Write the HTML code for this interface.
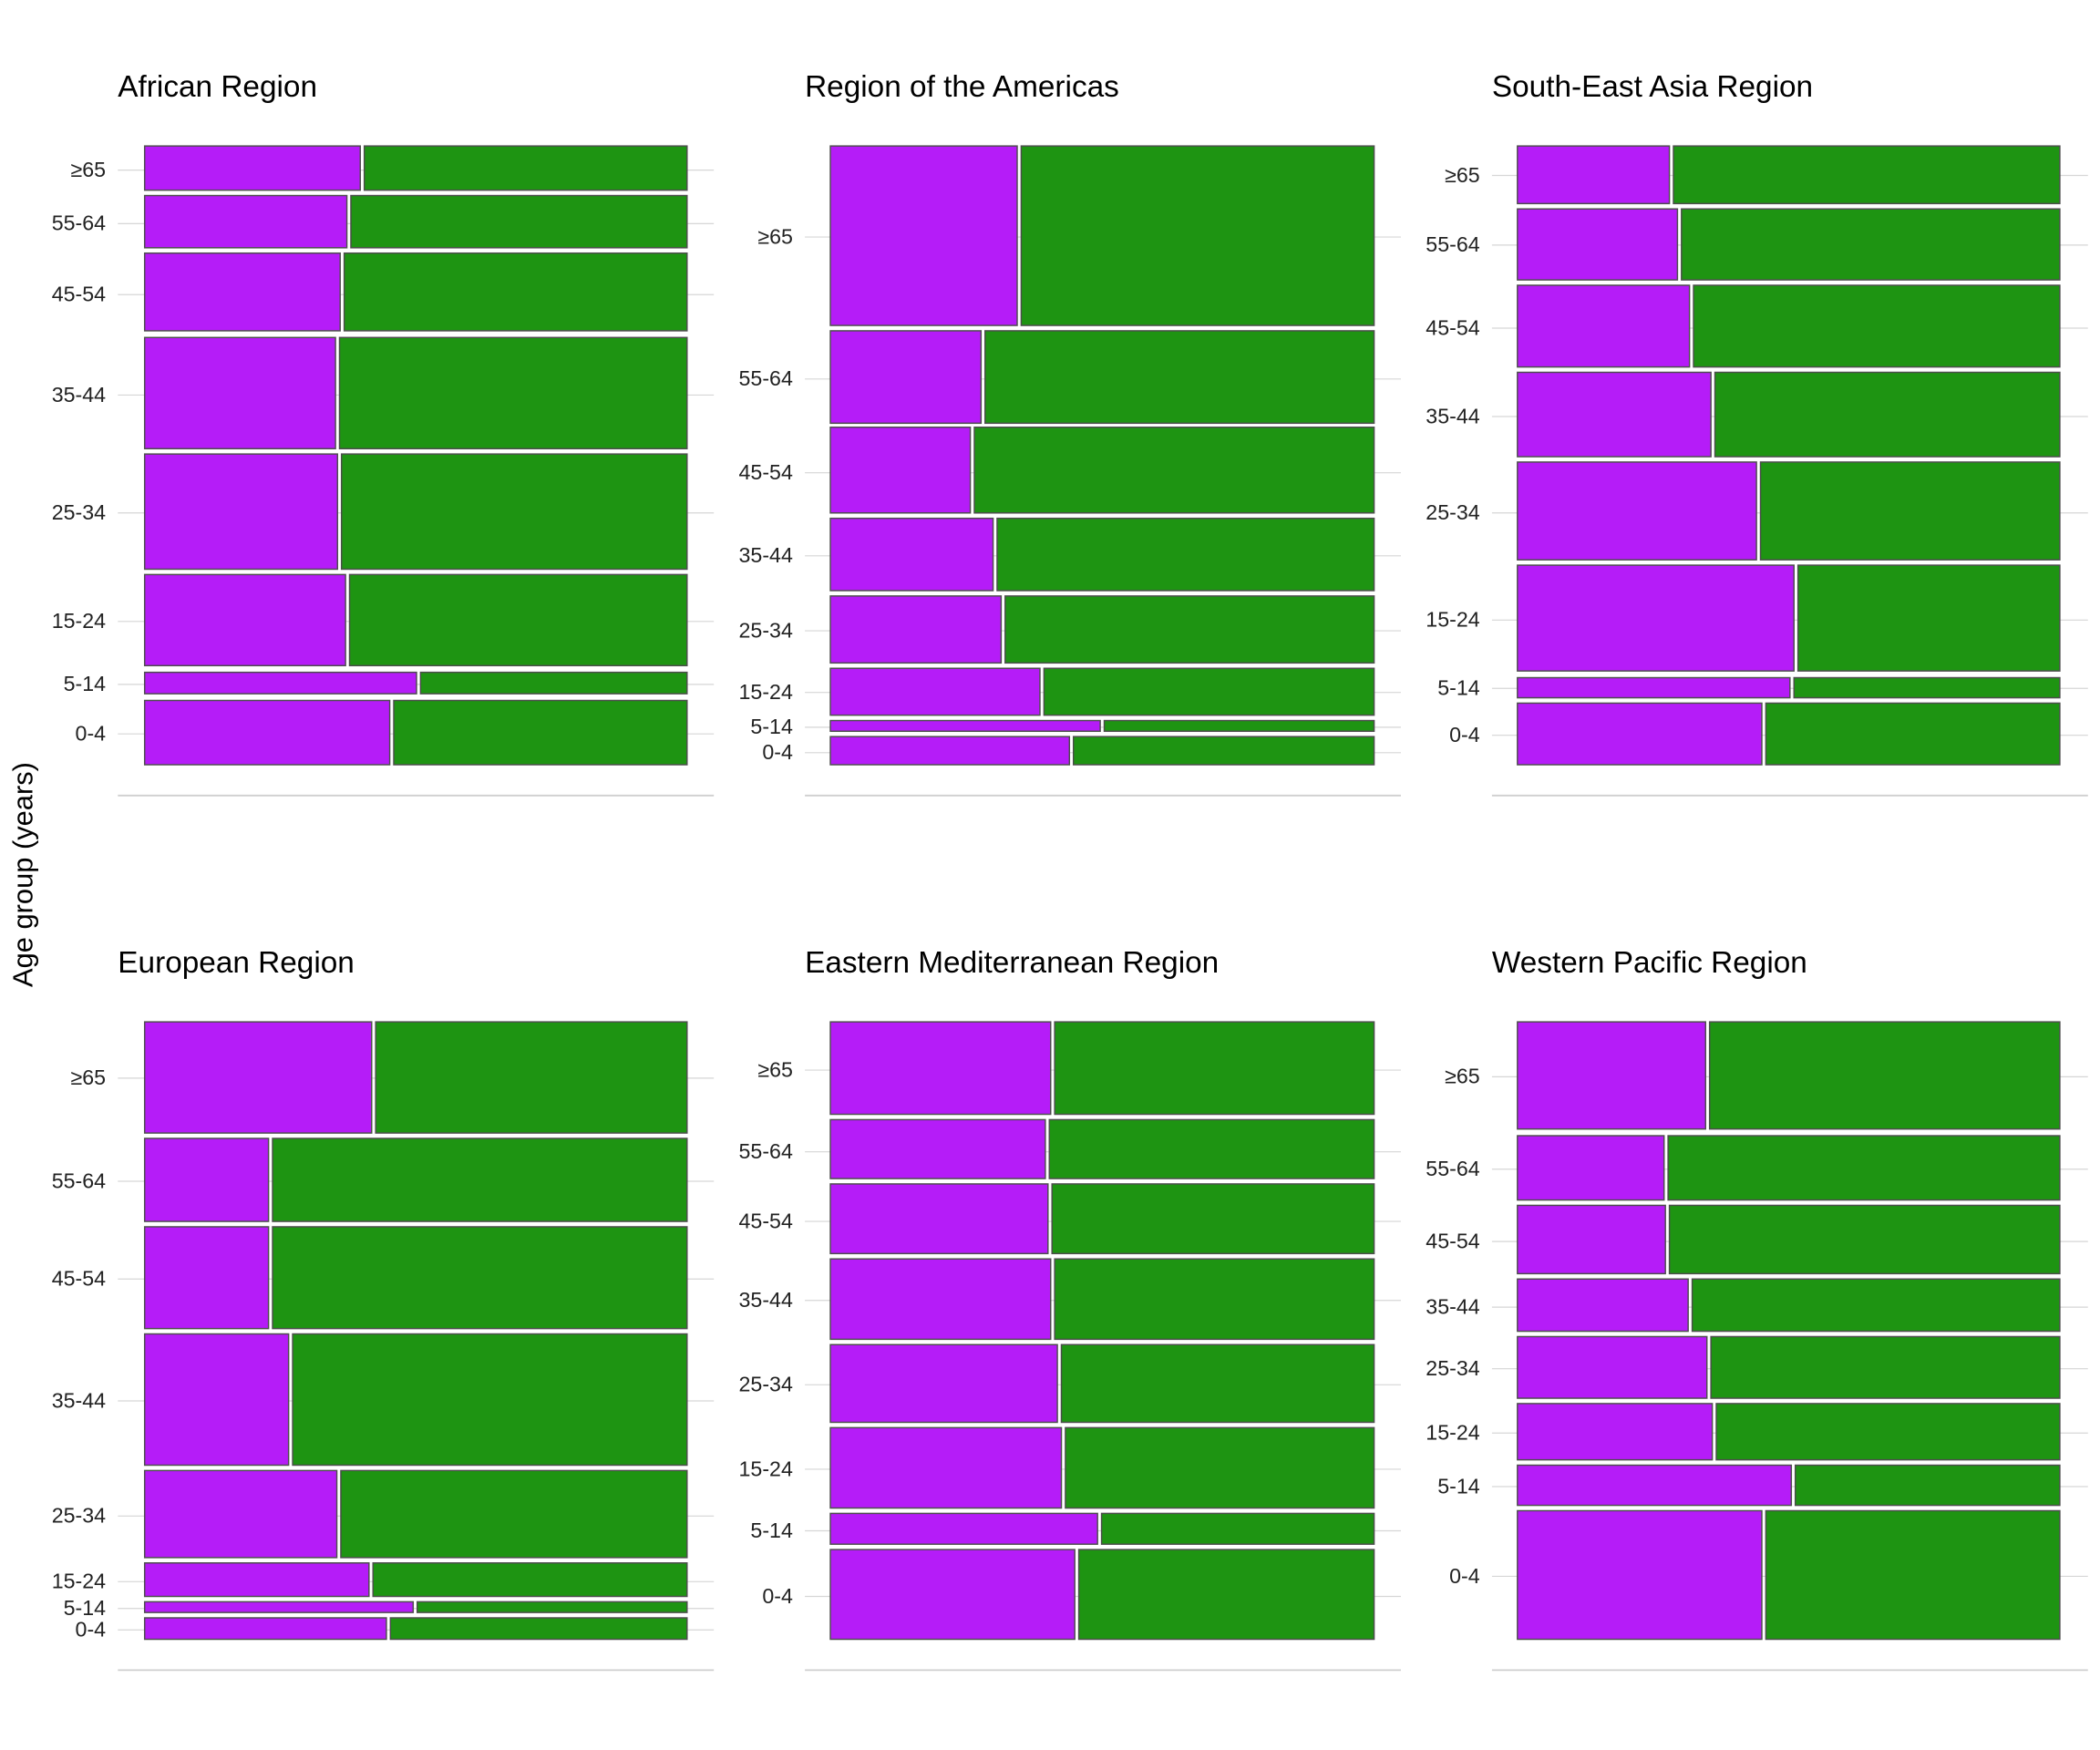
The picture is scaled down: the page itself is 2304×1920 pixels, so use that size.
<!DOCTYPE html>
<html><head><meta charset="utf-8"><style>
html,body{margin:0;padding:0;background:#fff;}
svg{display:block;}
text{font-family:"Liberation Sans",Arial,sans-serif;}
.t{font-size:22.7px;fill:#000;}
.l{font-size:15.8px;fill:#222;text-anchor:end;}
.g{stroke:#d6d6d6;stroke-width:0.8;}
</style></head><body>
<svg id="s" width="2304" height="1920" viewBox="0 0 1568 1306.67" xmlns="http://www.w3.org/2000/svg">
<rect width="1568" height="1306.67" fill="#fff"/>
<g id="grid"></g>
<g id="bars"></g>
<text class="t" x="88" y="72">African Region</text>
<text class="t" x="601" y="72">Region of the Americas</text>
<text class="t" x="1114" y="72">South-East Asia Region</text>
<text class="t" x="88" y="726">European Region</text>
<text class="t" x="601" y="726">Eastern Mediterranean Region</text>
<text class="t" x="1114" y="726">Western Pacific Region</text>
<text x="0" y="0" font-size="21" transform="translate(24,653) rotate(-90)" text-anchor="middle">Age group (years)</text>
<g id="labs">
<text class="l" x="79" y="132">≥65</text><text class="l" x="79" y="172">55-64</text><text class="l" x="79" y="225">45-54</text><text class="l" x="79" y="300">35-44</text><text class="l" x="79" y="388">25-34</text><text class="l" x="79" y="469">15-24</text><text class="l" x="79" y="516">5-14</text><text class="l" x="79" y="553">0-4</text>
<text class="l" x="592" y="182">≥65</text><text class="l" x="592" y="288">55-64</text><text class="l" x="592" y="358">45-54</text><text class="l" x="592" y="420">35-44</text><text class="l" x="592" y="476">25-34</text><text class="l" x="592" y="522">15-24</text><text class="l" x="592" y="548">5-14</text><text class="l" x="592" y="567">0-4</text>
<text class="l" x="1105" y="136">≥65</text><text class="l" x="1105" y="188">55-64</text><text class="l" x="1105" y="250">45-54</text><text class="l" x="1105" y="316">35-44</text><text class="l" x="1105" y="388">25-34</text><text class="l" x="1105" y="468">15-24</text><text class="l" x="1105" y="519">5-14</text><text class="l" x="1105" y="554">0-4</text>
<text class="l" x="79" y="810">≥65</text><text class="l" x="79" y="887">55-64</text><text class="l" x="79" y="960">45-54</text><text class="l" x="79" y="1051">35-44</text><text class="l" x="79" y="1137">25-34</text><text class="l" x="79" y="1186">15-24</text><text class="l" x="79" y="1206">5-14</text><text class="l" x="79" y="1222">0-4</text>
<text class="l" x="592" y="804">≥65</text><text class="l" x="592" y="865">55-64</text><text class="l" x="592" y="917">45-54</text><text class="l" x="592" y="976">35-44</text><text class="l" x="592" y="1039">25-34</text><text class="l" x="592" y="1102">15-24</text><text class="l" x="592" y="1148">5-14</text><text class="l" x="592" y="1197">0-4</text>
<text class="l" x="1105" y="809">≥65</text><text class="l" x="1105" y="878">55-64</text><text class="l" x="1105" y="932">45-54</text><text class="l" x="1105" y="981">35-44</text><text class="l" x="1105" y="1027">25-34</text><text class="l" x="1105" y="1075">15-24</text><text class="l" x="1105" y="1115">5-14</text><text class="l" x="1105" y="1182">0-4</text>
</g>
</svg>
<script>
var P=[
{x0:108,x1:513,gx:88,bot:594,r:[[109,142,270.5],[146,185,260.5],[189,247,255.5],[252,335,252],[339,425,253.5],[429,497,259.5],[502,518,312.5],[523,571,292.5]],t:[127,167,220,295,383,464,511,548]},
{x0:620,x1:1026,gx:601,bot:594,r:[[109,243,761],[247,316,734],[319,383,726],[387,441,743],[445,495,749],[499,534,778],[538,546,823],[550,571,800]],t:[177,283,353,415,471,517,543,562]},
{x0:1133,x1:1538,gx:1114,bot:594,r:[[109,152,1248],[156,209,1254],[213,274,1263],[278,341,1279],[345,418,1313],[422,501,1341],[506,521,1338],[525,571,1317]],t:[131,183,245,311,383,463,514,549]},
{x0:108,x1:513,gx:88,bot:1247,r:[[763,846,279],[850,912,202],[916,992,202],[996,1094,217],[1098,1163,253],[1167,1192,277],[1196,1204,310],[1208,1224,290]],t:[805,882,955,1046,1132,1181,1201,1217]},
{x0:620,x1:1026,gx:601,bot:1247,r:[[763,832,786],[836,880,782],[884,936,784],[940,1000,786],[1004,1062,791],[1066,1126,794],[1130,1153,821],[1157,1224,804]],t:[799,860,912,971,1034,1097,1143,1192]},
{x0:1133,x1:1538,gx:1114,bot:1247,r:[[763,843,1275],[848,896,1244],[900,951,1245],[955,994,1262],[998,1044,1276],[1048,1090,1280],[1094,1124,1339],[1128,1224,1317]],t:[804,873,927,976,1022,1070,1110,1177]}
];
var ns="http://www.w3.org/2000/svg",G=document.getElementById('grid'),B=document.getElementById('bars');
function el(p,tag,a){var e=document.createElementNS(ns,tag);for(var k in a)e.setAttribute(k,a[k]);p.appendChild(e);}
P.forEach(function(p){
 p.t.forEach(function(y){el(G,'line',{x1:p.gx,x2:p.gx+445,y1:y,y2:y,'class':'g'});});
 el(G,'line',{x1:p.gx,x2:p.gx+445,y1:p.bot,y2:p.bot,stroke:'#cfcfcf','stroke-width':1.2});
 p.r.forEach(function(r){
  el(B,'rect',{x:p.x0,y:r[0],width:r[2]-1.5-p.x0,height:r[1]-r[0],fill:'#b51cf8',stroke:'#4d4d4d','stroke-width':1});
  el(B,'rect',{x:r[2]+1.5,y:r[0],width:p.x1-r[2]-1.5,height:r[1]-r[0],fill:'#1e9412',stroke:'#4d4d4d','stroke-width':1});
 });
});
</script>
</body></html>
